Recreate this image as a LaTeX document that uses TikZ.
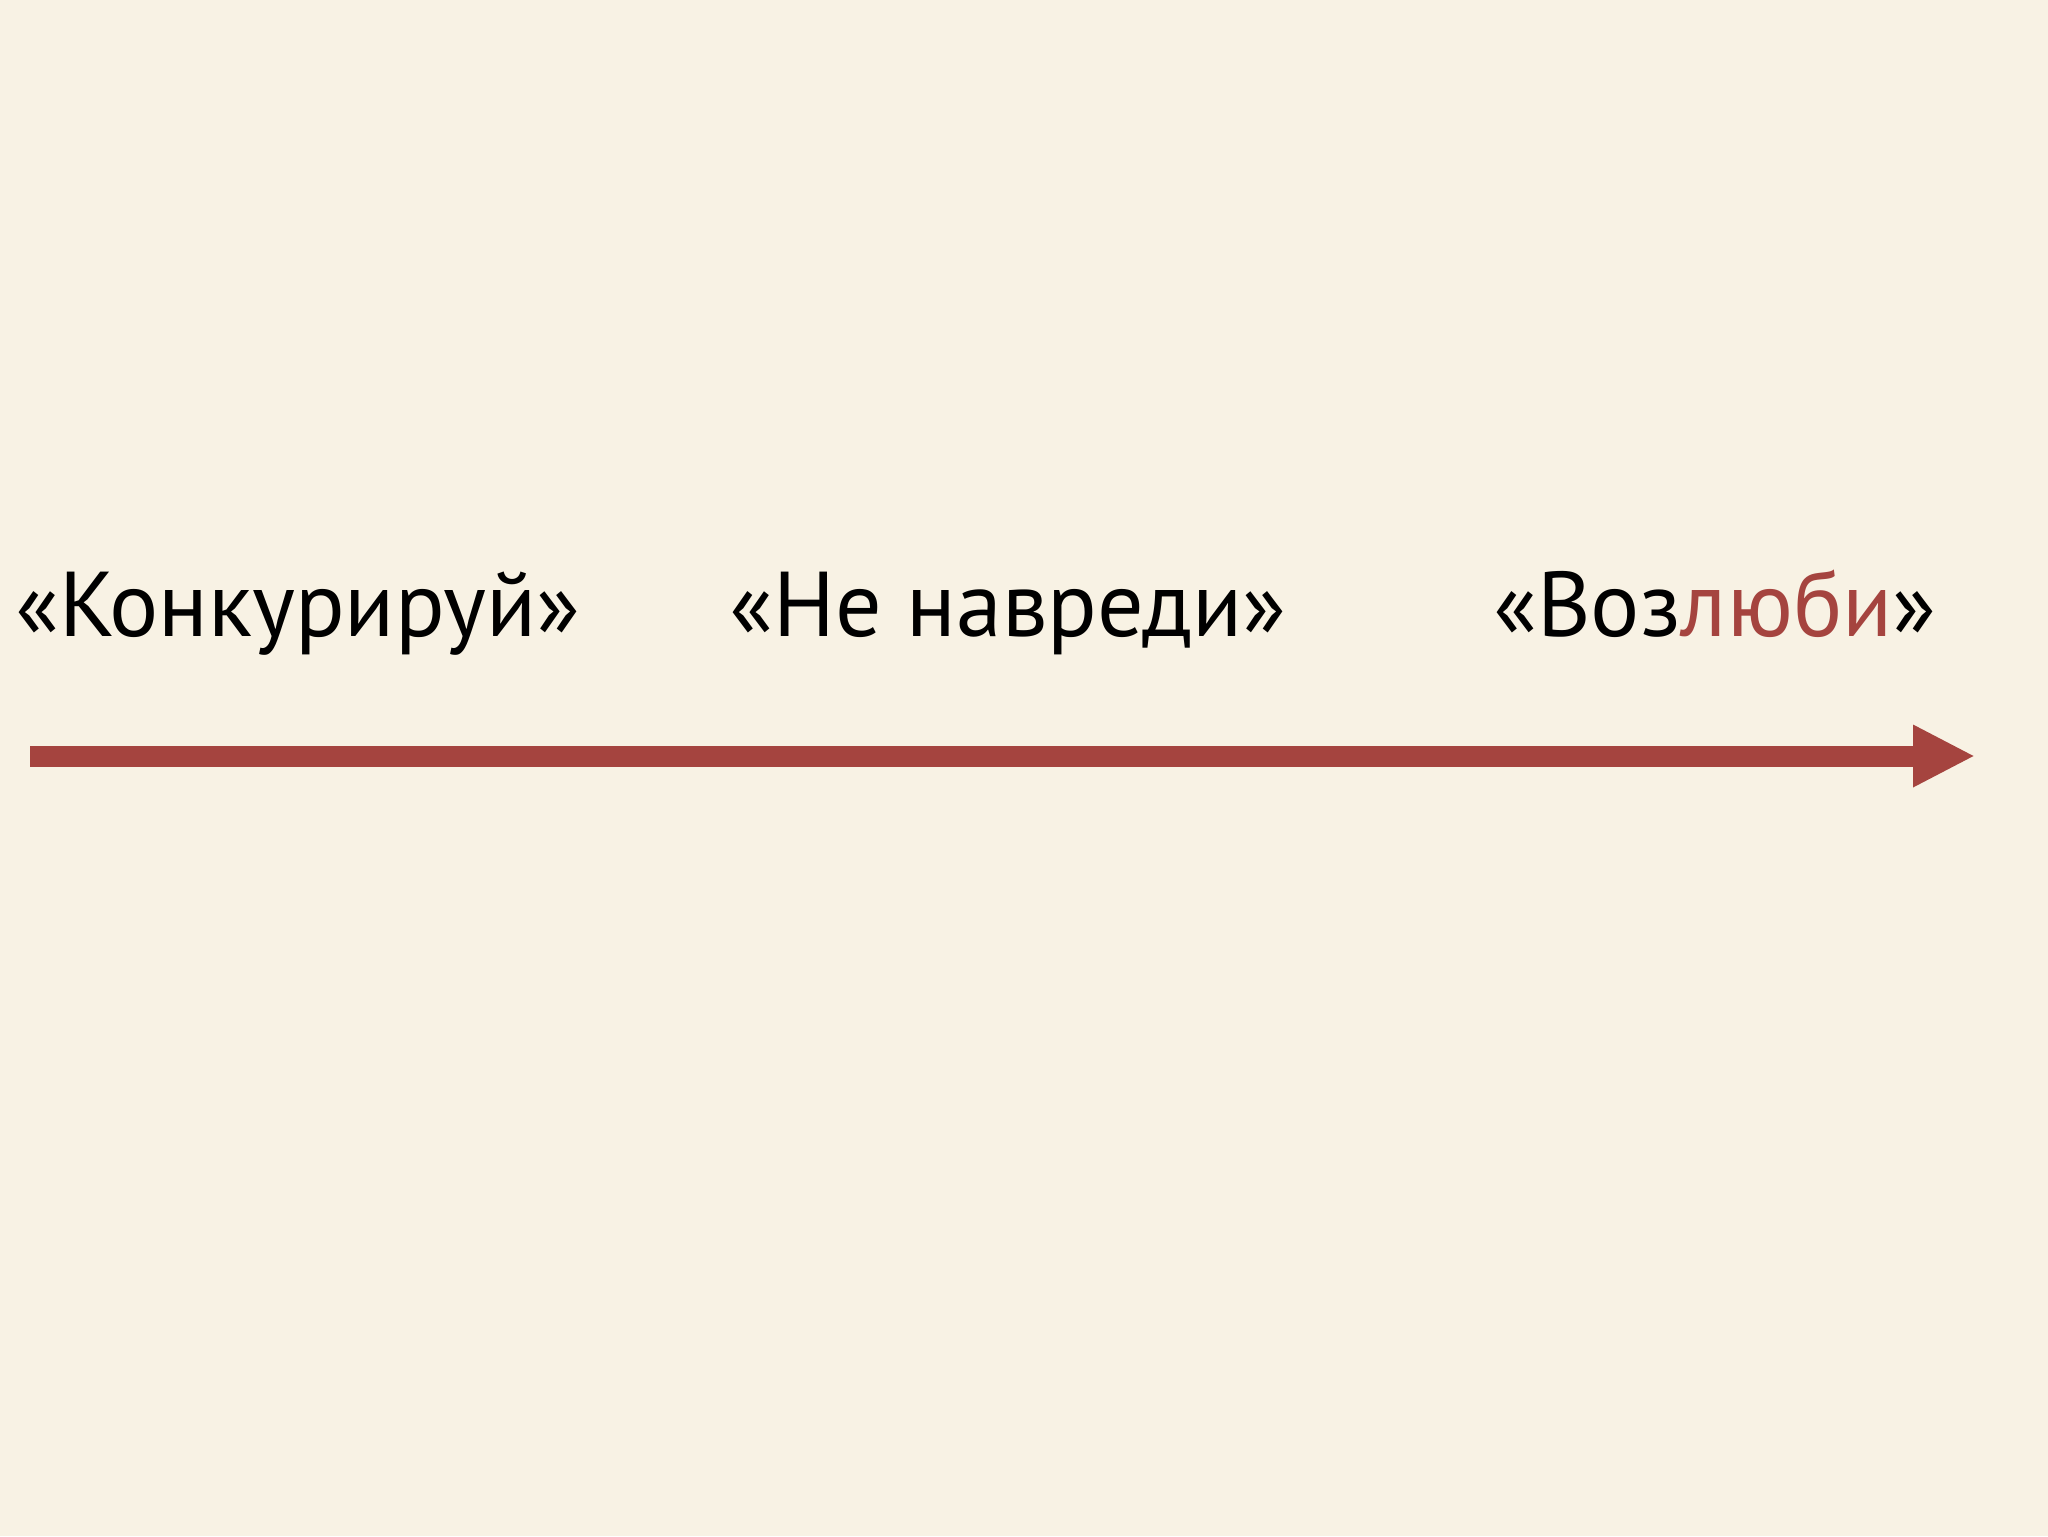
\documentclass[tikz,border=0pt]{standalone}
\usepackage{fontspec}
\setmainfont{PT Sans}
\usetikzlibrary{arrows.meta}
\definecolor{paper}{RGB}{248,242,228}
\definecolor{arrowred}{RGB}{165,68,63}
\tikzset{every picture/.style={line width=0.75pt}}
\tikzset{motto/.style={anchor=base, inner sep=0pt, font=\fontsize{46}{55}\selectfont}}

\begin{document}
\begin{tikzpicture}[x=0.5pt,y=0.5pt,yscale=-1,xscale=1]
	%background, sets the page size
	\fill [paper] (0,0) rectangle (2048,1536);
	\useasboundingbox (0,0) rectangle (2048,1536);

	% Text Node
	\node [motto] (compete) at (298,636) {«Конкурируй»};
	% Text Node
	\node [motto] (noharm) at (1008,636) {«Не навреди»};
	% Text Node
	\node [motto] (love) at (1715,636) {«Воз\textcolor{arrowred}{люби}»};

	%Straight Lines
	\coordinate (start) at (30,756);
	\coordinate (end) at (1975,756);
	\draw [arrowred, line width=10.5pt, -{Triangle[length=31pt, width=29pt]}] (start) -- (end);

\end{tikzpicture}
\end{document}
